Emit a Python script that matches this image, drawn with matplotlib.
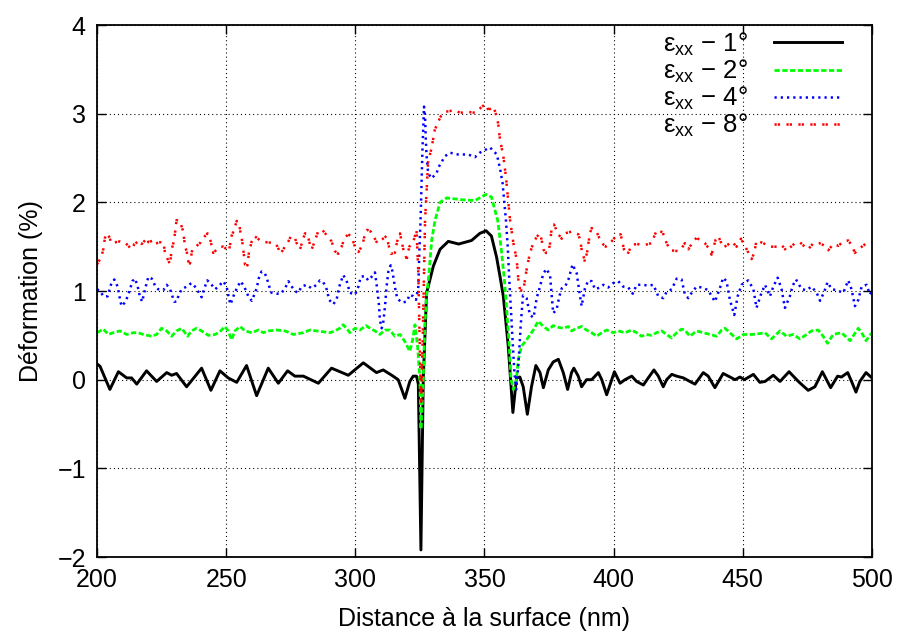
import numpy as np
import matplotlib
matplotlib.use("Agg")
import matplotlib.pyplot as plt

plt.rcParams['font.family'] = ['Liberation Sans', 'DejaVu Sans']
plt.rcParams['mathtext.default'] = 'regular'
plt.rcParams['lines.scale_dashes'] = False

# ---- data ----
x_1deg = [200, 201.2, 205, 208.3, 211.5, 213.4, 215.4, 219.2, 223.1, 227,
          228.9, 230.8, 234.7, 240.5, 244.1, 247.6, 250.8, 254.1, 257.9, 261.8,
          266.3, 270.2, 273.8, 276.6, 279.9, 285.7, 290.8, 297.3, 303.1, 308.2,
          310.8, 314.1, 316.6, 319.2, 321.1, 322.4, 323.7, 324.4, 325.4, 326.3,
          327.6, 330.2, 332.8, 336, 340, 345, 348.2, 350.6, 352.7, 354.7,
          356.1, 357.3, 359.2, 361.0, 362.4, 363.7, 365, 366.6, 368.2, 369.9,
          371.5, 372.8, 374.7, 376.6, 378.6, 380.5, 382.2, 383.7, 384.6, 386.3,
          387.6, 389.5, 391.5, 394.1, 395.4, 397.3, 400.3, 402.5, 404.4, 407,
          408.9, 411.5, 413.4, 415.6, 417.3, 419.2, 420.5, 422.5, 424.4, 427,
          429.5, 431.5, 434.7, 436.6, 439.2, 442.4, 444.4, 447, 448.9, 450.6,
          454.1, 456.6, 458.6, 461.8, 464.4, 467.9, 471.5, 475.3, 477.9, 480.8,
          484, 486.7, 488.2, 490.6, 492.1, 493.8, 495.3, 497.7, 500]
y_1deg = [0.18, 0.15, -0.11, 0.09, 0.02, 0.02, -0.05, 0.10, -0.02, 0.08,
          0.05, 0.07, -0.08, 0.13, -0.12, 0.10, 0.02, -0.03, 0.16, -0.18,
          0.13, -0.04, 0.10, 0.04, 0.04, -0.04, 0.13, 0.05, 0.19, 0.08,
          0.11, 0.05, 0.00, -0.21, -0.02, 0.04, 0.04, -0.05, -1.92, 0.00,
          0.98, 1.28, 1.47, 1.56, 1.53, 1.57, 1.65, 1.68, 1.62, 1.38,
          1.15, 0.94, 0.38, -0.37, 0.02, 0.03, -0.08, -0.39, -0.08, 0.16,
          0.08, -0.09, 0.11, 0.20, 0.23, 0.08, -0.11, 0.08, 0.13, 0.04,
          -0.08, 0.00, 0.00, 0.08, 0.00, -0.17, 0.09, -0.04, 0.00, 0.04,
          -0.02, -0.06, 0.02, 0.11, 0.04, -0.08, 0.00, 0.06, 0.04, 0.02,
          -0.02, -0.05, 0.08, 0.04, -0.09, 0.07, 0.04, 0.00, 0.03, 0.00,
          0.06, -0.03, -0.02, 0.05, -0.02, 0.09, -0.02, -0.12, -0.08, 0.09,
          -0.09, 0.04, 0.03, 0.08, -0.02, -0.14, -0.02, 0.08, 0.02]

x_2deg = [200, 201.2, 202.5, 204.4, 206.3, 208.9, 211.5, 214.1, 216, 217.9,
          221.2, 223.1, 225, 227, 228.9, 230.8, 232.8, 235.1, 236.6, 238.6,
          240.5, 243.1, 245.7, 247.6, 249.5, 250.8, 252.1, 253.4, 255.4, 257.3,
          259.9, 262.5, 264.4, 266.3, 269.5, 272.8, 276, 279.9, 282.4, 285,
          287.6, 290.2, 292.1, 294, 295.3, 296.6, 297.9, 299.9, 301.8, 304.1,
          305.7, 307.6, 309.5, 311.5, 313.4, 315.3, 317.3, 319.2, 321.1, 322.2,
          323.1, 324.1, 325, 325.4, 326.3, 326.9, 327.6, 328.3, 329.6, 330.9,
          332.8, 335.4, 341.1, 346.3, 350.6, 352.7, 355.1, 356.4, 357.7, 358.7,
          359.6, 360.3, 361.2, 362.2, 363.1, 364.4, 366.3, 368.9, 370.8, 372.8,
          374.7, 376.6, 378.6, 380.5, 382.5, 383.7, 385.7, 387.6, 389.5, 391.5,
          393.4, 395.4, 397.3, 399.9, 401.8, 404.4, 407, 408.9, 410.8, 412.7,
          414.7, 416.6, 418.6, 420.5, 422.5, 424.4, 426.3, 427.6, 429.5, 432.1,
          434.7, 437.3, 439.9, 441.8, 443.1, 445, 447.6, 450.2, 453.4, 456.6,
          458.6, 461.1, 464.4, 466.9, 469.5, 472.1, 474.7, 476.6, 479.2, 481.1,
          482.8, 485, 488.2, 491.5, 494.7, 496, 497.7, 500]
y_2deg = [0.53, 0.55, 0.57, 0.51, 0.53, 0.55, 0.51, 0.53, 0.53, 0.51,
          0.49, 0.51, 0.58, 0.55, 0.49, 0.55, 0.58, 0.49, 0.55, 0.58,
          0.55, 0.50, 0.51, 0.54, 0.60, 0.55, 0.45, 0.55, 0.60, 0.55,
          0.53, 0.56, 0.53, 0.55, 0.56, 0.55, 0.51, 0.53, 0.56, 0.55,
          0.54, 0.53, 0.55, 0.58, 0.62, 0.58, 0.53, 0.58, 0.56, 0.61,
          0.58, 0.55, 0.51, 0.56, 0.56, 0.49, 0.51, 0.43, 0.32, 0.45,
          0.62, 0.38, 0.0, -0.56, 0.0, 0.6, 0.95, 1.13, 1.58, 1.8,
          2.0, 2.05, 2.03, 2.02, 2.09, 2.06, 1.8, 1.5, 1.13, 0.75,
          0.38, 0.0, -0.11, -0.04, 0.23, 0.38, 0.45, 0.56, 0.66, 0.60,
          0.56, 0.61, 0.59, 0.58, 0.60, 0.55, 0.58, 0.60, 0.56, 0.53,
          0.49, 0.53, 0.56, 0.53, 0.55, 0.53, 0.56, 0.53, 0.49, 0.51,
          0.50, 0.53, 0.55, 0.51, 0.47, 0.53, 0.57, 0.56, 0.49, 0.55,
          0.53, 0.51, 0.49, 0.56, 0.58, 0.53, 0.46, 0.51, 0.51, 0.52,
          0.53, 0.46, 0.55, 0.49, 0.51, 0.46, 0.51, 0.55, 0.56, 0.49,
          0.41, 0.51, 0.53, 0.44, 0.58, 0.53, 0.44, 0.53]

x_4deg = [200, 201.2, 202.5, 204.1, 205.4, 206.7, 208, 208.9, 209.5, 210.8,
          211.9, 212.8, 213.7, 214.7, 215.7, 216.6, 217.5, 218.6, 219.9, 221.2,
          222.5, 223.7, 225.7, 227, 228.3, 229.2, 229.9, 230.8, 231.7, 232.8,
          234.7, 236.6, 237.9, 239.5, 240.5, 241.8, 242.7, 244.4, 245.7, 247,
          248.9, 250.2, 251.1, 251.7, 252.8, 254.1, 255.6, 257, 258.6, 259.9,
          260.9, 261.8, 262.7, 263.7, 265, 265.9, 266.7, 267.6, 269.5, 271.2,
          272.8, 274.1, 275.4, 276.6, 277.9, 279.2, 281.1, 283.1, 285, 286.3,
          287.6, 288.9, 289.9, 291.5, 292.8, 293.8, 294.7, 295.3, 296.6, 297.9,
          299.9, 301.2, 302.1, 303.7, 305, 306.3, 307.6, 308.5, 309.2, 309.5,
          310.2, 310.8, 311.5, 312.1, 312.8, 313.7, 314.4, 315.3, 316.2, 317.9,
          319.9, 321.1, 322.4, 323.5, 324.4, 324.8, 325.3, 326, 326.6, 327,
          327.3, 327.6, 328.2, 329.5, 331.5, 332.1, 334.7, 336.6, 339.8, 343.7,
          346.3, 348.2, 350.2, 352.1, 354.8, 356.1, 357, 357.6, 358.3, 359,
          359.6, 360.3, 361, 361.6, 362.3, 363.2, 364, 364.9, 366.3, 367.6,
          369, 370.2, 371.5, 372.8, 374.1, 375.4, 376.6, 377.9, 379, 379.9,
          381.2, 382.5, 384.1, 385.7, 387, 387.6, 388.9, 390.2, 391.5, 392.8,
          394.7, 396, 397.9, 399.9, 401.8, 403.7, 405.7, 407.4, 408.9, 411.5,
          413.4, 415.4, 417.3, 419.2, 420.5, 422.5, 424.4, 426.3, 427.6, 428.9,
          430.2, 432.1, 434.1, 436.6, 439.2, 441.1, 442.4, 443.7, 445, 446.7,
          448, 449.5, 452.1, 454.1, 455.3, 457, 458.6, 460.5, 461.8, 463.5,
          465, 466.3, 468.2, 469.3, 470.6, 472.8, 474.7, 476.6, 478.6, 479.9,
          481.5, 482.8, 484.4, 486.3, 488.9, 490.8, 492.1, 493.4, 494.7, 496,
          497.9, 499.2, 500]
y_4deg = [1.02, 1.00, 0.94, 0.94, 1.07, 1.13, 1.05, 0.91, 0.83, 0.87,
          0.94, 1.02, 1.11, 1.14, 1.06, 0.94, 0.88, 1.02, 1.16, 1.14,
          1.06, 1.02, 1.01, 1.07, 1.02, 0.94, 0.88, 0.88, 0.96, 1.02,
          1.05, 1.09, 1.05, 0.98, 0.93, 1.05, 1.12, 1.07, 1.02, 1.05,
          1.11, 1.05, 0.91, 0.85, 0.94, 1.03, 1.11, 1.05, 0.94, 0.89,
          0.96, 1.03, 1.15, 1.22, 1.20, 1.13, 1.05, 0.98, 0.97, 0.97,
          1.03, 1.11, 1.05, 1.00, 0.98, 1.05, 1.07, 1.03, 1.07, 1.12,
          1.10, 1.02, 0.90, 0.85, 0.91, 1.05, 1.13, 1.18, 1.12, 0.98,
          0.96, 1.05, 1.16, 1.17, 1.12, 1.16, 1.21, 1.02, 0.83, 0.68,
          0.58, 0.64, 0.83, 1.05, 1.22, 1.29, 1.22, 1.05, 0.92, 0.87,
          0.88, 0.96, 0.94, 0.90, 1.05, 1.45, 1.84, 2.6, 3.08, 2.97,
          2.70, 2.52, 2.33, 2.27, 2.33, 2.39, 2.52, 2.56, 2.54, 2.54,
          2.51, 2.56, 2.59, 2.62, 2.54, 2.37, 2.22, 2.03, 1.8, 1.5,
          1.13, 0.75, 0.38, 0.08, -0.11, 0.2, 0.6, 0.95, 0.92, 0.73,
          0.70, 0.92, 1.05, 1.20, 1.25, 1.17, 0.75, 0.79, 0.94, 1.03,
          1.05, 1.13, 1.30, 1.20, 0.94, 0.83, 1.03, 1.12, 1.11, 1.02,
          1.04, 1.07, 1.04, 1.09, 1.11, 1.05, 1.04, 0.97, 1.07, 1.07,
          1.06, 1.07, 0.94, 0.92, 0.99, 1.02, 1.14, 1.13, 0.96, 0.92,
          0.98, 1.05, 1.04, 1.01, 0.88, 1.03, 1.15, 1.11, 0.90, 0.73,
          0.94, 1.07, 1.12, 1.02, 0.81, 0.96, 1.07, 0.94, 1.05, 1.15,
          1.02, 0.81, 0.94, 1.06, 1.13, 1.02, 1.01, 1.05, 0.98, 0.89,
          0.99, 1.10, 1.02, 1.01, 0.98, 1.12, 1.02, 0.83, 0.90, 1.05,
          1.07, 0.96, 1.0]

x_8deg = [200, 201.2, 202.1, 202.5, 203.1, 203.7, 205, 205.4, 208.9, 210.8,
          213.4, 214.5, 216.6, 217.3, 219.5, 219.9, 221.8, 222.5, 224, 225.7,
          226.3, 227.2, 228.3, 228.9, 229.5, 230.2, 230.8, 232.1, 233.4, 234.1,
          234.7, 235.4, 236, 236.9, 239.9, 240.5, 242.8, 243.7, 244.6, 245,
          247.6, 248.9, 251.1, 252.1, 252.8, 254.1, 255, 255.6, 256, 256.6,
          257.3, 258.3, 258.8, 259.9, 260.9, 263.7, 265.7, 268.9, 269.9, 271.1,
          272.1, 274.1, 275.1, 276.6, 277.3, 278.6, 279.2, 280.5, 281.4, 282.4,
          283.1, 284.4, 285.7, 287.2, 288.9, 290.8, 292.1, 293.4, 295, 295.6,
          297.3, 298.6, 300.2, 301.2, 302.8, 303.7, 304.6, 306, 307, 308.5,
          309.8, 312.1, 313.4, 313.8, 315.3, 316.2, 317.3, 318.6, 319.9, 320.9,
          322.4, 323.7, 324.4, 325, 325.5, 326.2, 327, 327.6, 328.2, 329.5,
          330.8, 332.1, 333.1, 334.7, 338.6, 340.5, 343.7, 346.3, 349.1, 350.4,
          351.5, 353.4, 354.3, 355.3, 356, 357.3, 358.3, 359, 359.9, 361.2,
          362.5, 363.1, 363.8, 365, 366.3, 367.6, 368.9, 370.2, 371.5, 372.1,
          372.8, 373.8, 374.7, 375.4, 376, 376.9, 378.6, 379.9, 381, 383.7,
          386.3, 387, 387.6, 388.9, 389.8, 390.8, 391.5, 393.4, 394.1, 395.4,
          397, 399.9, 401.2, 402.7, 404, 405.3, 407, 408.9, 412.1, 414.7,
          416, 416.9, 419, 419.9, 421.8, 425, 426.3, 427.6, 428.9, 430.8,
          432.1, 435.3, 436.6, 437.9, 439.5, 440.5, 442.4, 444.1, 445.7, 447.6,
          449.3, 451.5, 453.4, 454.4, 455.3, 457.9, 460.5, 463.1, 465, 467,
          467.9, 470.2, 472.1, 474, 475.3, 477.3, 479.6, 481.8, 483.1, 485,
          487, 488.9, 490.8, 492.1, 493.4, 494.7, 497.9, 500]
y_8deg = [1.30, 1.36, 1.43, 1.48, 1.60, 1.65, 1.60, 1.54, 1.56, 1.55,
          1.47, 1.53, 1.57, 1.53, 1.60, 1.55, 1.57, 1.53, 1.55, 1.55,
          1.44, 1.37, 1.30, 1.47, 1.53, 1.65, 1.80, 1.79, 1.67, 1.50,
          1.45, 1.33, 1.31, 1.47, 1.54, 1.58, 1.65, 1.60, 1.48, 1.43,
          1.50, 1.50, 1.45, 1.62, 1.67, 1.79, 1.77, 1.65, 1.60, 1.48,
          1.30, 1.29, 1.43, 1.56, 1.62, 1.56, 1.55, 1.54, 1.50, 1.42,
          1.47, 1.56, 1.62, 1.60, 1.54, 1.47, 1.53, 1.65, 1.65, 1.53,
          1.47, 1.57, 1.68, 1.69, 1.63, 1.56, 1.45, 1.42, 1.52, 1.59,
          1.64, 1.61, 1.47, 1.44, 1.52, 1.64, 1.69, 1.67, 1.62, 1.54,
          1.57, 1.62, 1.45, 1.42, 1.43, 1.56, 1.65, 1.47, 1.36, 1.50,
          1.55, 1.69, 1.2, 0.3, -0.25, 0.6, 1.8, 2.14, 2.46, 2.61,
          2.82, 2.91, 2.97, 3.02, 3.04, 3.01, 3.02, 3.01, 3.08, 3.11,
          3.04, 3.08, 3.01, 2.89, 2.71, 2.52, 2.29, 2.07, 1.8, 1.54,
          1.35, 1.13, 1.01, 1.0, 1.24, 1.43, 1.54, 1.61, 1.65, 1.58,
          1.47, 1.43, 1.43, 1.54, 1.71, 1.75, 1.64, 1.59, 1.65, 1.67,
          1.64, 1.58, 1.47, 1.33, 1.45, 1.65, 1.71, 1.67, 1.62, 1.54,
          1.50, 1.58, 1.64, 1.64, 1.47, 1.41, 1.52, 1.53, 1.52, 1.54,
          1.64, 1.69, 1.66, 1.58, 1.46, 1.45, 1.48, 1.54, 1.47, 1.56,
          1.60, 1.54, 1.49, 1.41, 1.58, 1.62, 1.49, 1.52, 1.56, 1.50,
          1.59, 1.47, 1.36, 1.43, 1.57, 1.54, 1.50, 1.50, 1.52, 1.45,
          1.48, 1.54, 1.55, 1.50, 1.47, 1.54, 1.54, 1.51, 1.46, 1.53,
          1.51, 1.56, 1.57, 1.52, 1.43, 1.47, 1.54, 1.55]

labels = [r'$ε_{xx}$ − 1°', r'$ε_{xx}$ − 2°', r'$ε_{xx}$ − 4°', r'$ε_{xx}$ − 8°']
x_ticks = [200, 250, 300, 350, 400, 450, 500]
y_ticks = [-2, -1, 0, 1, 2, 3, 4]

# ---- figure ----
fig = plt.figure(figsize=(8.97, 6.35), dpi=100)
ax = fig.add_axes([0.1081, 0.1228, 0.8640, 0.8378])

ax.plot(x_1deg, y_1deg, color='black', lw=2.1, linestyle='-',
        solid_joinstyle='round', label=labels[0])
ax.plot(x_2deg, y_2deg, color='#00ff00', lw=2.0, linestyle=(0, (3.8, 1.8)),
        label=labels[1])
ax.plot(x_4deg, y_4deg, color='#0000ff', lw=1.8, linestyle=(0, (1.6, 2.9)),
        label=labels[2])
ax.plot(x_8deg, y_8deg, color='#ff0000', lw=1.8, linestyle=(0, (1.6, 0.8, 1.6, 4.6)),
        label=labels[3])

ax.set_xlim(200, 500)
ax.set_ylim(-2, 4)
ax.set_xticks(x_ticks)
ax.set_yticks(y_ticks)
ax.grid(True, color='black', lw=0.8, linestyle=(0, (0.75, 2.2)))
ax.set_axisbelow(True)

for s in ax.spines.values():
    s.set_linewidth(1.3)
ax.tick_params(direction='in', length=6.5, width=1.0, top=True, right=True,
               labelsize=18, pad=8)

ax.set_xlabel('Distance à la surface (nm)', fontsize=18, labelpad=11)
ax.set_ylabel('Déformation (%)', fontsize=18, labelpad=10)

leg = ax.legend(loc='upper right', bbox_to_anchor=(0.9613, 0.99),
                frameon=False, markerfirst=False, handlelength=2.65,
                handletextpad=1.0, labelspacing=0.0, borderpad=0,
                borderaxespad=0, fontsize=18.5)

fig.savefig('out.png', dpi=100)
